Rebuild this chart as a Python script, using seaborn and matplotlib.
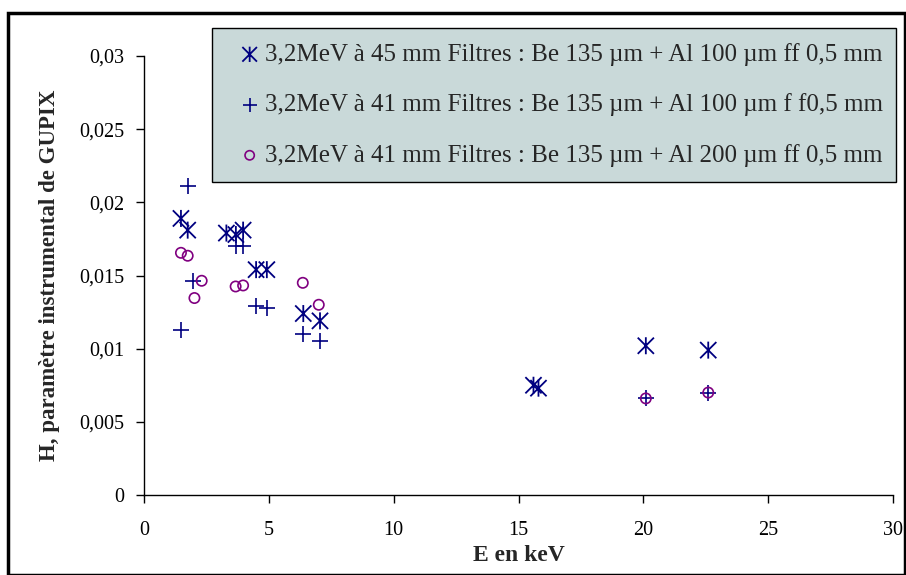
import numpy as np
import pandas as pd
import matplotlib
matplotlib.use("Agg")
import matplotlib.pyplot as plt
import seaborn as sns
from matplotlib.path import Path
from matplotlib.patches import Rectangle
from matplotlib.ticker import FixedLocator, FixedFormatter

# ---- data ----
labels = [
    "3,2MeV à 45 mm Filtres : Be 135 µm + Al 100 µm ff 0,5 mm",
    "3,2MeV à 41 mm Filtres : Be 135 µm + Al 100 µm f f0,5 mm",
    "3,2MeV à 41 mm Filtres : Be 135 µm + Al 200 µm ff 0,5 mm",
]
s1_E = [1.48, 1.75, 3.30, 3.68, 3.97, 4.49, 4.92, 6.38, 7.05, 15.6, 15.8, 20.1, 22.6]
s1_H = [0.0189, 0.0181, 0.0179, 0.0178, 0.0181, 0.0154, 0.0154, 0.0124, 0.0119, 0.0075, 0.0073, 0.0102, 0.0099]
s2_E = [1.50, 1.75, 1.98, 3.68, 3.97, 4.49, 4.92, 6.38, 7.05, 20.1, 22.6]
s2_H = [0.0113, 0.0211, 0.0146, 0.0170, 0.0170, 0.0129, 0.0128, 0.0110, 0.0105, 0.0066, 0.0070]
s3_E = [1.48, 1.75, 2.02, 2.31, 3.67, 3.97, 6.36, 7.00, 20.1, 22.6]
s3_H = [0.01655, 0.01635, 0.01346, 0.01464, 0.01425, 0.01432, 0.0145, 0.0130, 0.0066, 0.0070]

x_ticks = [0, 5, 10, 15, 20, 25, 30]
y_ticks = [0, 0.005, 0.01, 0.015, 0.02, 0.025, 0.03]
y_tick_labels = ["0", "0,005", "0,01", "0,015", "0,02", "0,025", "0,03"]

sns.set_theme(style="white")
plt.rcParams['font.family'] = ['Liberation Serif', 'DejaVu Serif']

fig = plt.figure(figsize=(9.06, 5.75), dpi=100)
ax = fig.add_axes([144/906, 80/575, 749/906, 439/575])

star = Path([(-1, -1), (1, 1), (-1, 1), (1, -1), (0, -1.05), (0, 1.05)],
            [Path.MOVETO, Path.LINETO, Path.MOVETO, Path.LINETO, Path.MOVETO, Path.LINETO])

navy = "#000080"
purple = "#800080"

df1 = pd.DataFrame({"E": s1_E, "H": s1_H})
df2 = pd.DataFrame({"E": s2_E, "H": s2_H})
df3 = pd.DataFrame({"E": s3_E, "H": s3_H})

sns.scatterplot(data=df1, x="E", y="H", ax=ax, marker=star, s=150,
                facecolor="none", edgecolor=navy, linewidth=1.3, label=labels[0])
sns.scatterplot(data=df2, x="E", y="H", ax=ax, marker="+", s=140,
                color=navy, linewidth=1.2, label=labels[1])
sns.scatterplot(data=df3, x="E", y="H", ax=ax, marker="o", s=55,
                facecolor="none", edgecolor=purple, linewidth=1.2, label=labels[2])

ax.set_xlim(0, 30)
ax.set_ylim(0, 0.03)
ax.xaxis.set_major_locator(FixedLocator(x_ticks))
ax.set_xticklabels([str(v) for v in x_ticks])
ax.yaxis.set_major_locator(FixedLocator(y_ticks))
ax.yaxis.set_major_formatter(FixedFormatter(y_tick_labels))
ax.tick_params(axis="both", direction="out", length=6, width=1, color="black",
               labelsize=14.5, labelcolor="black", bottom=True, left=True)
ax.tick_params(axis="x", pad=13)
ax.tick_params(axis="y", pad=8)
for sp in ["top", "right"]:
    ax.spines[sp].set_visible(False)
for sp in ["left", "bottom"]:
    ax.spines[sp].set_color("black")
    ax.spines[sp].set_linewidth(1.0)

ax.set_xlabel("E en keV", fontsize=17, fontweight="bold", labelpad=3)
ax.set_ylabel("H, paramètre instrumental de GUPIX", fontsize=16.5, fontweight="bold", labelpad=14)

leg = ax.legend(loc="upper left", bbox_to_anchor=(0.091, 1.064, 0.913, 0), mode="expand",
                fontsize=18, frameon=True, fancybox=False, facecolor="#C9D9D9",
                edgecolor="black", framealpha=1, labelspacing=1.1, handletextpad=-0.3,
                handlelength=1.8, borderpad=0.6, markerscale=0.9, borderaxespad=0)
leg.get_frame().set_linewidth(1.0)

fig.patches.append(Rectangle((8/906, 0), 897/906, 562/575, transform=fig.transFigure,
                             fill=False, edgecolor="black", linewidth=2.5))

fig.savefig("out.png", dpi=100)
